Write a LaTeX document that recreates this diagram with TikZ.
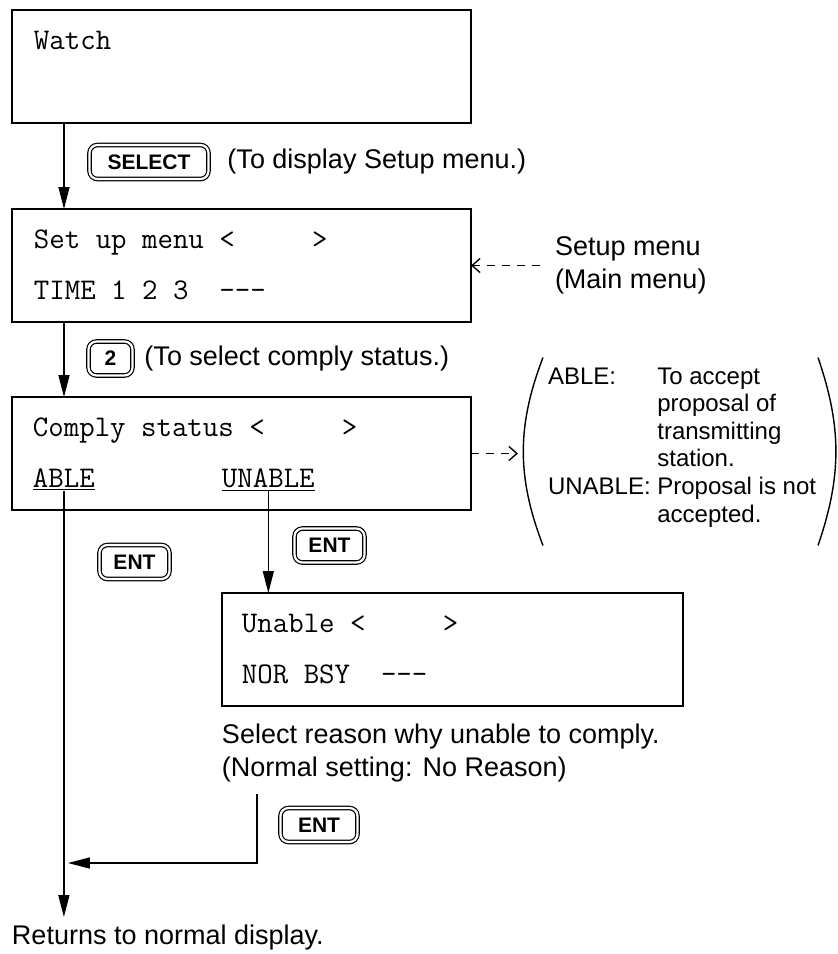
\documentclass[tikz,border=0pt]{standalone}
\usepackage{fontspec}
\setsansfont{Liberation Sans}
\usetikzlibrary{arrows.meta,positioning}
\newcommand{\lcdfont}{\ttfamily\fontsize{15}{18}\selectfont}
\newcommand{\notefont}{\sffamily\fontsize{13.5}{16.5}\selectfont}
\newcommand{\keyfont}{\sffamily\bfseries\fontsize{10.5}{12}\selectfont}

\begin{document}
\begin{tikzpicture}[>={Triangle[length=11pt,width=5.5pt]},
screen/.style={draw,line width=1pt,minimum width=229.5pt,minimum height=56.5pt,inner sep=0pt,outer sep=0pt},
lcd/.style={font=\lcdfont,inner sep=0pt,outer sep=0pt,anchor=base west},
keycap/.style={draw,double,double distance=1.1pt,line width=0.6pt,rounded corners=4pt,font=\keyfont,minimum height=17pt,inner sep=0pt,outer sep=0pt},
note/.style={font=\notefont,inner sep=0pt,outer sep=0pt,align=left},
flow/.style={->,line width=0.75pt},
hint/.style={-{Straight Barb[length=4pt,width=7pt]},line width=0.7pt,dash pattern=on 4pt off 3.5pt},
paren/.style={line width=0.7pt}]
\node[screen] (watch) {};
\useasboundingbox ([shift={(-6pt,5pt)}]watch.north west) rectangle ++(418.5pt,-477pt);
\node[lcd] (watchtxt) at ([shift={(11pt,-19.5pt)}]watch.north west) {Watch};
\node[screen,below=43pt of watch] (setup) {};
\node[lcd] (setuptxt) at ([shift={(11pt,-19.5pt)}]setup.north west) {Set up menu <~~~~~>};
\node[lcd] (setupopt) at ([shift={(11pt,-45pt)}]setup.north west) {TIME 1 2 3~~-{}-{}-};
\node[screen,below=37.5pt of setup] (comply) {};
\node[lcd] (complytxt) at ([shift={(10.5pt,-19.5pt)}]comply.north west) {Comply status <~~~~~>};
\node[lcd] (able) at ([shift={(10.5pt,-45pt)}]comply.north west) {\underline{ABLE}};
\node[lcd] (unable) at ([shift={(105pt,-45pt)}]comply.north west) {\underline{UNABLE}};
\node[screen,minimum width=230.5pt,below right=41.5pt and 105pt of comply.south west] (unablescr) {};
\node[lcd] (unabletxt) at ([shift={(10pt,-19.5pt)}]unablescr.north west) {Unable <~~~~~>};
\node[lcd] (reasons) at ([shift={(10pt,-45pt)}]unablescr.north west) {NOR BSY~~-{}-{}-};
\node[keycap,minimum width=59.5pt,below right=11pt and 38.75pt of watch.south west] (select) {SELECT};
\node[note,right=9.5pt of select] (selectnote) {(To display Setup menu.)};
\node[keycap,minimum width=22pt,below right=9.75pt and 38.25pt of setup.south west] (two) {2};
\node[note,right=6pt of two] (twonote) {(To select comply status.)};
\node[keycap,minimum width=35pt,below right=17.5pt and 43.75pt of comply.south west] (entable) {ENT};
\node[keycap,minimum width=35pt,below right=9.25pt and 141.25pt of comply.south west] (entunable) {ENT};
\node[note,below right=9pt and 0pt of unablescr.south west] (reasonnote) {Select reason why unable to comply.\\(Normal setting: No Reason)};
\node[keycap,minimum width=38.5pt,below right=51pt and 29.25pt of unablescr.south west] (entback) {ENT};
\node[note,below right=207.5pt and 0pt of comply.south west] (returns) {Returns to normal display.};
\node[note,right=42pt of setup.east] (setupnote) {Setup menu\\(Main menu)};
\coordinate[right=23.5pt of comply.east] (legendtip);
\node[font={\sffamily\fontsize{12}{13.8}\selectfont},inner sep=0pt,outer sep=0pt,right=38.5pt of comply.east,yshift=3pt] (legend) {\begin{tabular}{@{}l@{\ }l@{}}
ABLE: & To accept\\
 & proposal of\\
 & transmitting\\
 & station.\\
UNABLE: & Proposal is not\\
 & accepted.
\end{tabular}};
\draw[flow] ([xshift=26pt]watch.south west) -- ([xshift=26pt]setup.north west);
\draw[flow] ([xshift=26pt]setup.south west) -- ([xshift=26pt]comply.north west);
\draw[flow] (unable.south) -- (unable.south |- unablescr.north);
\draw[flow,shorten >=4pt] (able.south) -- (able.south |- returns.north);
\coordinate (retstart) at ([shift={(17.5pt,-44pt)}]unablescr.south west);
\coordinate (retcorner) at ([yshift=-34.5pt]retstart);
\draw[flow,shorten >=2pt] (retstart) -- (retcorner) -- (retcorner -| able.south);
\draw[hint,shorten <=7.5pt] (setupnote.west) -- (setup.east);
\draw[hint] (comply.east) -- (legendtip);
\draw[paren] ([shift={(12.5pt,48pt)}]legendtip) to[bend right=21] ([shift={(12.5pt,-46pt)}]legendtip);
\draw[paren] ([shift={(150pt,48pt)}]legendtip) to[bend left=19] ([shift={(150pt,-46pt)}]legendtip);
\end{tikzpicture}
\end{document}
